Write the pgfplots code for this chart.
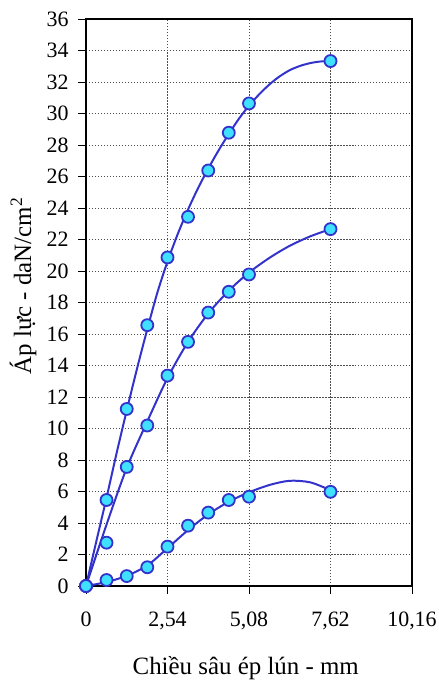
\documentclass[border=0pt]{standalone}
\usepackage{pgfplots}
\pgfplotsset{compat=1.18}
\usepackage{pgfplotstable}
\usepackage{fontspec}
\setmainfont{Liberation Serif}
\definecolor{lineblue}{RGB}{51,51,204}
\definecolor{markfill}{RGB}{64,224,255}

\pgfplotstableread{
x y
0 0
0.64 5.46
1.27 11.24
1.91 16.56
2.54 20.86
3.18 23.44
3.81 26.38
4.45 28.78
5.08 30.64
7.62 33.33
}\topdata
\pgfplotstableread{
x y
0 0
0.32 2.82
0.64 5.6
0.95 8.4
1.27 11.15
1.59 13.8
1.91 16.3
2.22 18.6
2.54 20.6
2.86 22.35
3.18 23.9
3.49 25.25
3.81 26.5
4.13 27.65
4.45 28.7
4.76 29.65
5.08 30.5
5.40 31.22
5.72 31.85
6.03 32.35
6.35 32.75
6.67 33.02
6.99 33.2
7.30 33.3
7.62 33.33
}\topfit
\pgfplotstableread{
x y
0 0
0.64 2.75
1.27 7.56
1.91 10.19
2.54 13.36
3.18 15.5
3.81 17.36
4.45 18.68
5.08 19.78
7.62 22.66
}\middata
\pgfplotstableread{
x y
0 0
0.64 3.9
1.27 7.5
1.91 10.45
2.54 13.2
3.18 15.5
3.81 17.3
4.45 18.75
5.08 19.9
5.73 20.85
6.35 21.6
6.99 22.2
7.62 22.66
}\midfit
\pgfplotstableread{
x y
0 0
0.64 0.38
1.27 0.63
1.91 1.19
2.54 2.50
3.18 3.83
3.81 4.66
4.45 5.46
5.08 5.67
7.62 5.98
}\lowdata
\pgfplotstableread{
x y
0 0
0.64 0.25
1.27 0.65
1.91 1.3
2.54 2.4
3.18 3.55
3.81 4.55
4.45 5.35
5.08 5.95
5.73 6.42
6.35 6.68
6.99 6.58
7.62 6.08
}\lowfit

\begin{document}
\begin{tikzpicture}
\begin{axis}[
  at={(86bp,96bp)}, anchor=south west,
  scale only axis,
  width=326bp, height=567bp,
  xmin=0, xmax=10.16, ymin=0, ymax=36,
  xtick={0,2.54,5.08,7.62,10.16},
  xticklabels={0,{2,54},{5,08},{7,62},{10,16}},
  ytick={0,2,...,36},
  /pgf/number format/assume math mode=true,
  tick label style={font=\fontsize{22}{26}\selectfont},
  label style={font=\fontsize{25}{29}\selectfont},
  xtick pos=bottom, ytick pos=left,
  tick align=outside,
  major tick length=8bp,
  every tick/.style={black, line width=0.6pt},
  axis line style={line width=1.5pt},
  grid=major,
  major grid style={black!70, line width=0.6pt, dash pattern=on 1.5pt off 1.5pt},
  xlabel={Chiều sâu ép lún - mm},
  ylabel={Áp lực - daN/cm\textsuperscript{2}},
  xlabel style={at={(axis description cs:0.49,-0.145)}, anchor=center},
  ylabel style={at={(axis description cs:-0.193,0.529)}, anchor=center, rotate=0},
  xticklabel style={yshift=-14bp},
  yticklabel style={xshift=-6bp},
  clip=false,
]
\addplot[lineblue, line width=2pt, smooth, tension=0.5] table {\topfit};
\addplot[lineblue, line width=2pt, smooth] table {\midfit};
\addplot[lineblue, line width=2pt, smooth] table {\lowfit};
\addplot[only marks, mark=*, mark size=6bp, mark options={fill=markfill, draw=lineblue, line width=1.8pt}] table {\topdata};
\addplot[only marks, mark=*, mark size=6bp, mark options={fill=markfill, draw=lineblue, line width=1.8pt}] table {\middata};
\addplot[only marks, mark=*, mark size=6bp, mark options={fill=markfill, draw=lineblue, line width=1.8pt}] table {\lowdata};
\end{axis}
\pgfresetboundingbox
\path[use as bounding box] (0,0) rectangle (439bp,682bp);
\end{tikzpicture}
\end{document}
